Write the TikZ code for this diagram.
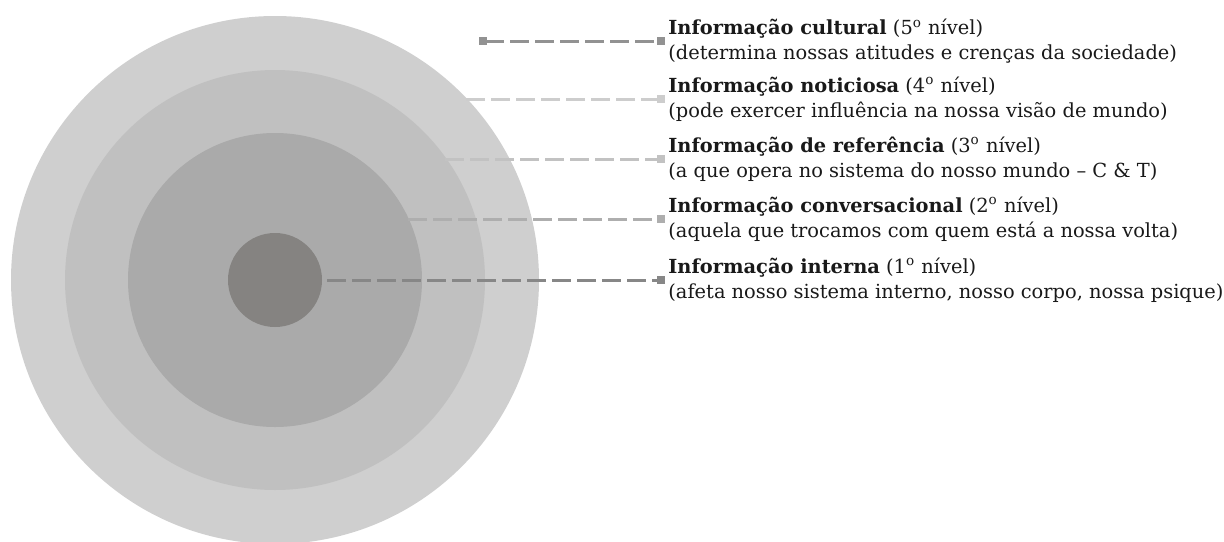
\documentclass[tikz,border=0pt]{standalone}
\usepackage{fontspec}
\setmainfont{DejaVu Serif}
\usetikzlibrary{arrows.meta}
\definecolor{ring4}{HTML}{CFCFCF}
\definecolor{ring3}{HTML}{C0C0C0}
\definecolor{ring2}{HTML}{AAAAAA}
\definecolor{ring1}{HTML}{858381}
\definecolor{lead5}{HTML}{929292}
\definecolor{lead4}{HTML}{CDCDCD}
\definecolor{lead3}{HTML}{C2C2C2}
\definecolor{lead2}{HTML}{AEAEAE}
\definecolor{lead1}{HTML}{878787}
\newcommand{\lvl}[1]{(#1\textsuperscript{o} nível)}
\tikzstyle{ring}=[circle,inner sep=0pt,draw=none]
\tikzstyle{level label}=[anchor=west,align=left,inner sep=0pt,text=black!90,font=\fontsize{9.7}{12.5}\selectfont]
\tikzstyle{leader}=[draw,line width=1.5pt,dash pattern=on 9.5pt off 3pt,shorten >=1.5pt,-{Square[length=3.8pt,width=3.8pt]}]

\begin{document}
\begin{tikzpicture}[x=0.5pt,y=-0.5pt]
    \useasboundingbox (0,0) rectangle (1224,541);
    % First we draw the rings, outermost first
    \foreach \size/\col/\name in {264/ring4/c4, 210/ring3/c3, 147/ring2/c2, 47/ring1/c1}
        \node[ring,fill=\col,minimum size=\size pt] (\name) at (275,280) {};

    % Free ends of the leader lines
    \foreach \pos/\name in {{(479,41)/s5}, {(466,99)/s4}, {(445,159)/s3}, {(408,219)/s2}, {(327,280)/s1}}
        \path \pos coordinate (\name);

    % The levels
    \node[level label] (l5) at (668,41) {\textbf{Informação cultural} \lvl{5}\\(determina nossas atitudes e crenças da sociedade)};
    \node[level label] (l4) at (668,99) {\textbf{Informação noticiosa} \lvl{4}\\(pode exercer influência na nossa visão de mundo)};
    \node[level label] (l3) at (668,159) {\textbf{Informação de referência} \lvl{3}\\(a que opera no sistema do nosso mundo – C \& T)};
    \node[level label] (l2) at (668,219) {\textbf{Informação conversacional} \lvl{2}\\(aquela que trocamos com quem está a nossa volta)};
    \node[level label] (l1) at (668,280) {\textbf{Informação interna} \lvl{1}\\(afeta nosso sistema interno, nosso corpo, nossa psique)};

    % Connect them with dashed leaders
    \path[leader,draw=lead5,{Square[length=3.8pt,width=3.8pt]}-{Square[length=3.8pt,width=3.8pt]}] (s5) -- (l5.west);
    \foreach \source/\dest/\col in {s4/l4/lead4, s3/l3/lead3, s2/l2/lead2, s1/l1/lead1}
        \path[leader,draw=\col] (\source) -- (\dest.west);
\end{tikzpicture}
\end{document}
